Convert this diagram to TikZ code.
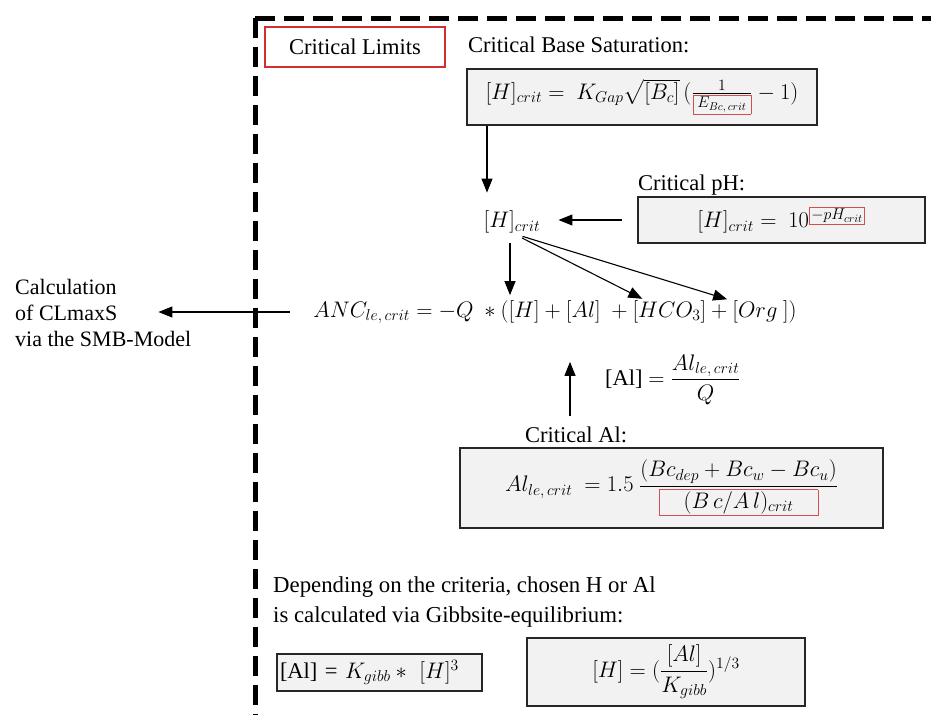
\RequirePackage{fix-cm}
\documentclass[tikz,border=0pt]{standalone}
\usepackage{amsmath}
\usepackage{fontspec}
\setmainfont{Liberation Serif}
\usetikzlibrary{arrows.meta}
\definecolor{boxgray}{HTML}{F2F2F2}
\definecolor{limred}{HTML}{D03030}
\definecolor{eqred}{HTML}{D05050}
\newcommand{\rbox}[1]{{\setlength{\fboxsep}{1.5pt}\setlength{\fboxrule}{0.8pt}\fcolorbox{eqred}{boxgray}{#1}}}
\begin{document}
\begin{tikzpicture}[x=1pt,y=-1pt,
  txt/.style={font=\fontsize{22.5}{26}\selectfont, inner sep=0pt},
  eq/.style={font=\fontsize{22.5}{27}\selectfont, inner sep=0pt},
  eqbox/.style={draw=black!85, fill=boxgray, line width=1.4pt, font=\fontsize{22.5}{27}\selectfont, inner sep=0pt},
  arr/.style={-{Triangle[length=14pt,width=11pt]}, line width=1.1pt},
  frame/.style={line width=5pt, dash pattern=on 20pt off 9pt}]
\useasboundingbox (0,0) rectangle (931,715);
\draw[frame] (255,18) -- (931,18);
\draw[frame] (255,18) -- (255,715);

\node[draw=limred, line width=1.2pt, minimum width=180pt, minimum height=40pt, txt] (lim) at (355,47) {Critical Limits};
\node[txt, anchor=west] (bslab) at (468,45) {Critical Base Saturation:};
\node[eqbox, minimum width=350pt, minimum height=56pt] (bs) at (642,97) {$[H]_{crit} = \ K_{Gap}\sqrt{[B_c]}\,(\tfrac{1}{\rbox{$\scriptstyle\,E_{Bc,\,crit}\,$}} - 1)$};

\node[eq] (hcrit) at (512,222) {$[H]_{crit}$};
\node[txt, anchor=west] (phlab) at (638,185) {Critical pH:};
\node[eqbox, minimum width=287pt, minimum height=46pt] (ph) at (781.5,220) {$[H]_{crit} = \ 10^{\rbox{$\scriptstyle -pH_{crit}$}}$};

\node[eq] (anc) at (555,312) {$ANC_{le,\,crit} = -Q\ *([H]+[Al]\ +[HCO_3]+[Org\ ])$};
\node[txt, anchor=north west, align=left, font=\fontsize{22}{26}\selectfont] (calc) at (15,279) {Calculation\\of CLmaxS\\via the SMB-Model};
\node[eq, anchor=west] (alq) at (605,380) {[Al] $= \dfrac{Al_{le,\,crit}}{Q}$};

\node[txt, anchor=west] (allab) at (525,435) {Critical Al:};
\node[eqbox, minimum width=423pt, minimum height=80pt] (al) at (671.5,488) {$Al_{le,\,crit}\ = 1.5\ \dfrac{(Bc_{dep}+Bc_w-Bc_u)}{\rbox{$\quad(B\,c/A\,l)_{crit}\quad$}}$};

\node[txt, anchor=north west, align=left, font=\fontsize{22.8}{30}\selectfont] (dep) at (273,576) {Depending on the criteria, chosen H or Al\\is calculated via Gibbsite-equilibrium:};
\node[eqbox, minimum width=205pt, minimum height=37pt, text width=199pt, align=left] (gal) at (379.5,672.5) {[Al] = $K_{gibb}*\ [H]^3$};
\node[eqbox, minimum width=278pt, minimum height=68pt] (gh) at (666,672) {$[H] = (\dfrac{[Al]}{K_{gibb}})^{1/3}$};

\draw[arr, shorten >=18pt] (bs.south -| 487,0) -- (hcrit.north -| 487,0);
\draw[arr, shorten <=15pt, shorten >=18pt] (ph.west) -- (ph.west -| hcrit.east);
\draw[arr, shorten <=10pt, shorten >=5pt] (hcrit.south -| 510,0) -- (anc.north -| 510,0);
\draw[arr, shorten <=10pt, shorten >=3pt] (hcrit.south -| 513,0) -- (anc.north -| 645,0);
\draw[arr, shorten <=10pt, shorten >=3pt] (hcrit.south -| 513,0) -- (anc.north -| 730,0);
\draw[arr, shorten <=23pt, shorten >=-33pt] (anc.west) -- (anc.west -| calc.east);
\draw[arr, shorten <=11pt, shorten >=38pt] (allab.north -| 570,0) -- (anc.south -| 570,0);
\end{tikzpicture}
\end{document}
